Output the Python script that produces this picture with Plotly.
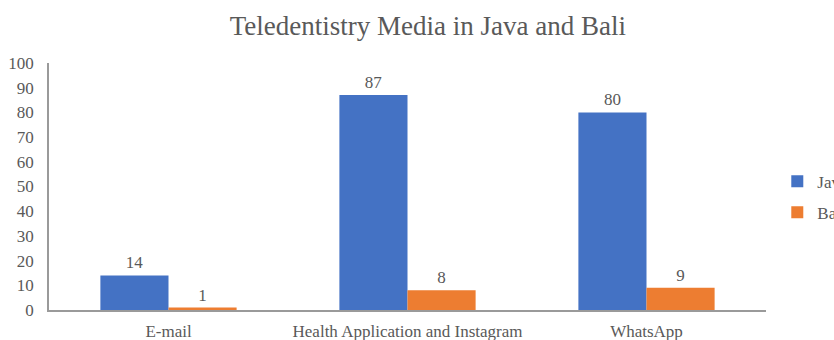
import plotly.graph_objects as go

categories = ["E-mail", "Health Application and Instagram", "WhatsApp"]
java = [14, 87, 80]
bali = [1, 8, 9]
series_names = ["Java", "Bali"]
colors = ["#4472C4", "#ED7D31"]

font_family = "Liberation Serif, Times New Roman, serif"
gray = "#595959"

fig = go.Figure()
for name, vals, col in zip(series_names, [java, bali], colors):
    fig.add_trace(go.Bar(
        x=categories, y=vals, name=name, marker_color=col, legendgroup=name,
        text=[str(v) for v in vals], textposition="outside",
        textfont=dict(family=font_family, size=17, color=gray),
        cliponaxis=False, marker_line_width=0,
    ))

fig.update_layout(
    width=834, height=340,
    margin=dict(l=49, r=68, t=63, b=30, autoexpand=False),
    paper_bgcolor="white", plot_bgcolor="white",
    barmode="group", bargap=0.43, bargroupgap=0,
    title=dict(text="Teledentistry Media in Java and Bali", x=0.513, xanchor="center",
               y=0.925, yanchor="middle",
               font=dict(family=font_family, size=27, color=gray)),
    font=dict(family=font_family, size=17, color=gray),
    showlegend=True,
    legend=dict(xref="container", yref="container", x=0.932, xanchor="left",
                y=0.42, yanchor="middle",
                font=dict(family=font_family, size=17, color=gray),
                itemwidth=30, tracegroupgap=6, bgcolor="rgba(0,0,0,0)"),
)
fig.update_xaxes(showline=True, linecolor="#9a9a9a", linewidth=1.5, ticks="",
                 ticklabelstandoff=5,
                 tickfont=dict(family=font_family, size=17, color=gray), showgrid=False)
fig.update_yaxes(range=[0, 100], dtick=10, showline=True, linecolor="#9a9a9a", linewidth=1.5,
                 showgrid=False, zeroline=False, ticks="", ticklabelstandoff=10,
                 tickfont=dict(family=font_family, size=17, color=gray))

fig.write_html("out.html")
